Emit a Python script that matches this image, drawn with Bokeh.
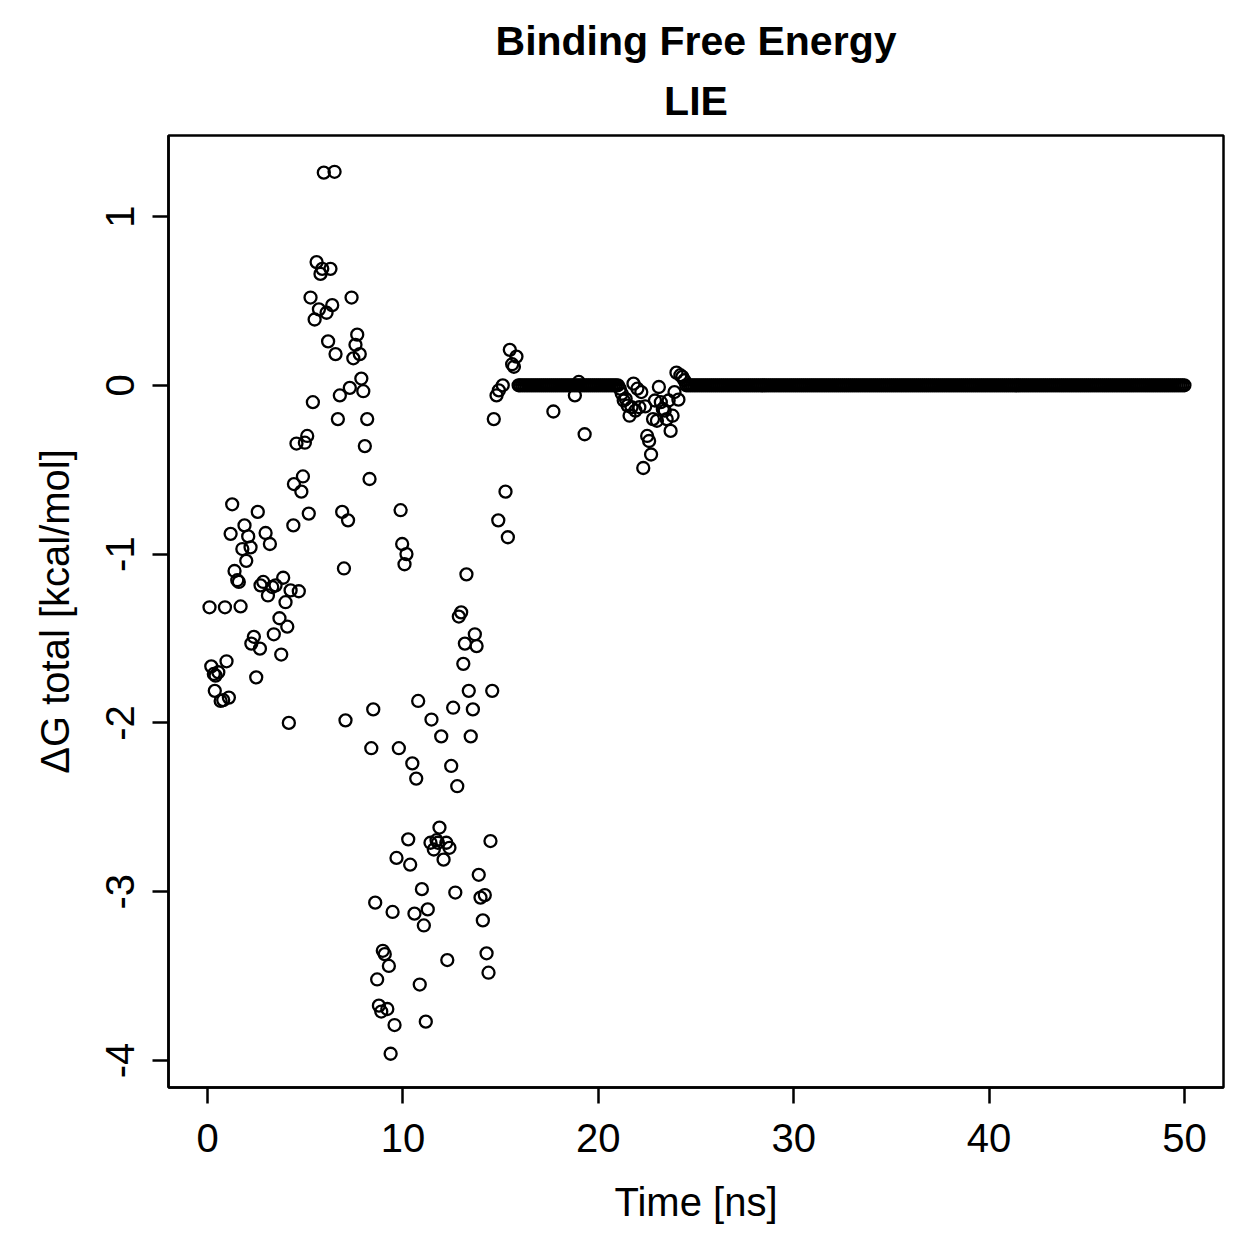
from bokeh.plotting import figure
from bokeh.models import Range1d, FixedTicker, Title
from bokeh.embed import file_html
from bokeh.resources import INLINE

# LIE binding free energy along the trajectory (ns, kcal/mol)

# scattered part of the run, 0-16 ns
early_t = [0.10, 0.19, 0.32, 0.37, 0.41, 0.55, 0.67, 0.80, 0.89, 0.97,
           1.09, 1.18, 1.26, 1.38, 1.52, 1.60, 1.69, 1.78, 1.89, 1.98,
           2.08, 2.20, 2.24, 2.37, 2.49, 2.57, 2.68, 2.71, 2.85, 2.97,
           3.09, 3.19, 3.31, 3.39, 3.48, 3.68, 3.77, 3.87, 3.99, 4.08,
           4.16, 4.25, 4.39, 4.42, 4.55, 4.67, 4.80, 4.88, 4.98, 5.10,
           5.18, 5.27, 5.39, 5.48, 5.58, 5.70, 5.78, 5.87, 5.95, 6.09,
           6.17, 6.29, 6.38, 6.50, 6.55, 6.67, 6.77, 6.89, 6.98, 7.06,
           7.19, 7.28, 7.37, 7.46, 7.57, 7.66, 7.79, 7.87, 7.97, 8.05,
           8.17, 8.29, 8.38, 8.48, 8.58, 8.68, 8.77, 8.89, 8.97, 9.07,
           9.20, 9.28, 9.37, 9.47, 9.57, 9.67, 9.79, 9.88, 9.96, 10.08,
           10.18, 10.27, 10.37, 10.48, 10.59, 10.68, 10.78, 10.86, 10.97, 11.07,
           11.17, 11.27, 11.41, 11.46, 11.58, 11.72, 11.79, 11.87, 11.96, 12.08,
           12.22, 12.27, 12.38, 12.47, 12.57, 12.68, 12.78, 12.86, 12.98, 13.09,
           13.17, 13.25, 13.37, 13.47, 13.58, 13.68, 13.77, 13.88, 13.97, 14.09,
           14.19, 14.28, 14.38, 14.48, 14.57, 14.65, 14.79, 14.88, 14.91, 15.11,
           15.25, 15.37, 15.47, 15.59, 15.68, 15.81, 15.92]
early_dG = [-1.315, -1.665, -1.71, -1.81, -1.72, -1.70, -1.87, -1.865, -1.315, -1.635,
            -1.85, -0.88, -0.705, -1.10, -1.155, -1.165, -1.31, -0.97, -0.83, -1.04,
            -0.895, -0.96, -1.53, -1.49, -1.73, -0.75, -1.56, -1.185, -1.165, -0.875,
            -1.245, -0.94, -1.195, -1.475, -1.185, -1.38, -1.595, -1.14, -1.285, -1.43,
            -2.0, -1.215, -0.83, -0.585, -0.345, -1.22, -0.63, -0.54, -0.34, -0.30,
            -0.76, 0.52, -0.10, 0.39, 0.73, 0.45, 0.66, 0.69, 1.26, 0.43,
            0.26, 0.69, 0.475, 1.265, 0.185, -0.20, -0.06, -0.75, -1.085, -1.985,
            -0.80, -0.015, 0.52, 0.16, 0.24, 0.30, 0.185, 0.04, -0.035, -0.36,
            -0.20, -0.555, -2.15, -1.92, -3.065, -3.52, -3.675, -3.71, -3.35, -3.37,
            -3.695, -3.44, -3.96, -3.12, -3.79, -2.80, -2.15, -0.74, -0.94, -1.06,
            -1.0, -2.69, -2.84, -2.24, -3.13, -2.33, -1.87, -3.55, -2.985, -3.20,
            -3.77, -3.105, -2.71, -1.98, -2.75, -2.695, -2.71, -2.62, -2.08, -2.81,
            -2.71, -3.405, -2.74, -2.255, -1.91, -3.005, -2.375, -1.37, -1.345, -1.65,
            -1.53, -1.12, -1.81, -2.08, -1.92, -1.475, -1.545, -2.90, -3.035, -3.17,
            -3.02, -3.365, -3.48, -2.70, -1.81, -0.20, -0.06, -0.80, -0.03, 0.0,
            -0.63, -0.90, 0.21, 0.125, 0.11, 0.17, 0.0]

# frames off the zero plateau after 16 ns
dev_t = [17.7, 18.8, 19.0, 19.3,
         21.1, 21.2, 21.3, 21.4, 21.5, 21.6, 21.7, 21.8, 21.9, 22.0,
         22.1, 22.2, 22.3, 22.4, 22.5, 22.6, 22.7, 22.8, 22.9, 23.0,
         23.1, 23.2, 23.3, 23.4, 23.5, 23.6, 23.7, 23.8, 23.9, 24.0,
         24.1, 24.2, 24.3, 24.4, 24.5]
dev_dG = [-0.155, -0.06, 0.02, -0.29,
          -0.02, -0.05, -0.09, -0.08, -0.12, -0.18, -0.13, 0.01, -0.15, -0.02,
          -0.13, -0.04, -0.49, -0.125, -0.30, -0.33, -0.41, -0.20, -0.09, -0.21,
          -0.01, -0.10, -0.14, -0.15, -0.20, -0.09, -0.27, -0.18, -0.04, 0.075,
          -0.085, 0.06, 0.05, 0.03, 0.0]

# stretches where every 0.1 ns frame gives 0 kcal/mol
plateau_from = [16.0, 24.6]
plateau_to = [21.0, 50.0]
plateau_value = 0.0
frame_step = 0.1

x_ticks = [0, 10, 20, 30, 40, 50]
y_ticks = [-4, -3, -2, -1, 0, 1]

plateau_t = []
for start, stop in zip(plateau_from, plateau_to):
    n = int(round((stop - start) / frame_step)) + 1
    plateau_t += [round(start + i * frame_step, 1) for i in range(n)]
plateau_dG = [plateau_value] * len(plateau_t)

time_ns = early_t + dev_t + plateau_t
dG_total = early_dG + dev_dG + plateau_dG

FONT = "Liberation Sans"

p = figure(width=1259, height=1259, output_backend="svg", toolbar_location=None,
           x_range=Range1d(-2, 52), y_range=Range1d(-4.16, 1.48),
           min_border_left=168, min_border_right=36,
           min_border_top=135, min_border_bottom=172)

p.scatter(time_ns, dG_total, marker="circle", size=12, fill_color=None,
          line_color="black", line_width=2.3)

# two-line heading, second line nearest the frame
p.add_layout(Title(text="LIE", align="center", text_font=FONT,
                   text_font_size="41px", text_font_style="bold",
                   text_color="black", standoff=24), "above")
p.add_layout(Title(text="Binding Free Energy", align="center", text_font=FONT,
                   text_font_size="41px", text_font_style="bold",
                   text_color="black", standoff=0), "above")

p.xgrid.visible = False
p.ygrid.visible = False
p.background_fill_color = "white"
p.border_fill_color = "white"
p.outline_line_color = "black"
p.outline_line_width = 2.5

p.xaxis.ticker = FixedTicker(ticks=x_ticks)
p.yaxis.ticker = FixedTicker(ticks=y_ticks)
p.xaxis.major_label_overrides = {t: str(t) for t in x_ticks}
p.yaxis.major_label_overrides = {t: str(t) for t in y_ticks}
p.yaxis.major_label_orientation = "parallel"
p.xaxis.axis_label = "Time [ns]"
p.yaxis.axis_label = "\u0394G total [kcal/mol]"

for ax in (p.xaxis, p.yaxis):
    ax.axis_line_color = "black"
    ax.axis_line_width = 2.5
    ax.major_tick_line_color = "black"
    ax.major_tick_line_width = 2.5
    ax.major_tick_out = 16
    ax.major_tick_in = 0
    ax.minor_tick_line_color = None
    ax.major_label_text_font = FONT
    ax.major_label_text_font_size = "40px"
    ax.major_label_text_color = "black"
    ax.axis_label_text_font = FONT
    ax.axis_label_text_font_size = "40px"
    ax.axis_label_text_font_style = "normal"
    ax.axis_label_text_color = "black"

p.xaxis.major_label_standoff = 20
p.xaxis.axis_label_standoff = 25
p.yaxis.major_label_standoff = 18
p.yaxis.axis_label_standoff = 27

open("out.html", "w").write(file_html(p, INLINE))
